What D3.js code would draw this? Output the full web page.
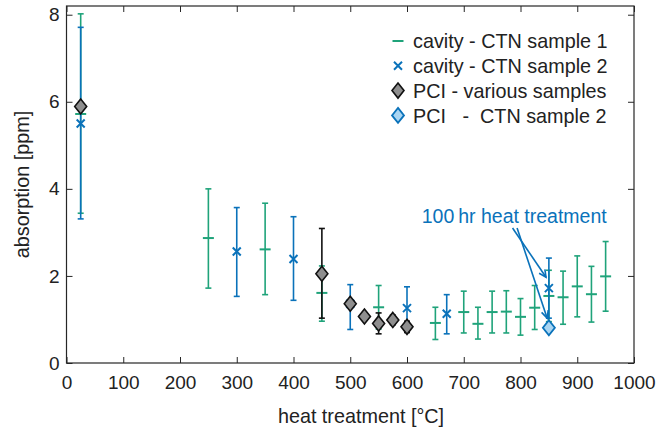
<!DOCTYPE html>
<html>
<head>
<meta charset="UTF-8">
<script src="https://d3js.org/d3.v7.min.js"></script>
<style>
  body { margin: 0; background: #fff; }
  text { font-family: "Liberation Sans", Arial, sans-serif; fill: #222; }
</style>
</head>
<body>
<div id="chart"></div>
<script>
// cavity - CTN sample 1
const t1  = [25, 250, 350, 450, 550, 650, 700, 725, 750, 775, 800, 825, 850, 875, 900, 925, 950];
const v1  = [5.72, 2.87, 2.61, 1.61, 1.28, 0.92, 1.17, 0.90, 1.17, 1.18, 1.06, 1.27, 1.54, 1.51, 1.76, 1.58, 1.99];
const lo1 = [3.44, 1.72, 1.57, 0.96, 0.78, 0.54, 0.69, 0.55, 0.69, 0.69, 0.64, 0.77, 0.95, 0.89, 1.06, 0.94, 1.19];
const hi1 = [8.02, 4.00, 3.67, 2.23, 1.78, 1.28, 1.65, 1.28, 1.65, 1.66, 1.48, 1.78, 2.13, 2.11, 2.46, 2.22, 2.79];
// cavity - CTN sample 2
const t2  = [25, 300, 400, 500, 600, 670, 850];
const v2  = [5.50, 2.56, 2.39, 1.36, 1.26, 1.13, 1.72];
const lo2 = [3.31, 1.53, 1.44, 0.77, 0.77, 0.67, 1.03];
const hi2 = [7.71, 3.57, 3.36, 1.80, 1.75, 1.57, 2.41];
// PCI - various samples
const t3  = [25, 450, 500, 525, 550, 575, 600];
const v3  = [5.89, 2.05, 1.36, 1.07, 0.91, 0.99, 0.83];
const lo3 = [5.85, 1.03, 1.30, 1.01, 0.67, 0.88, 0.70];
const hi3 = [5.93, 3.09, 1.42, 1.13, 1.15, 1.10, 0.96];
// PCI - CTN sample 2
const t4 = [850];
const v4 = [0.81];

const xTicks = d3.range(0, 1001, 100);
const yTicks = [0, 2, 4, 6, 8];
const legendLabels = ["cavity - CTN sample 1", "cavity - CTN sample 2", "PCI - various samples", "PCI   -  CTN sample 2"];
const noteText = "100\u2009hr heat treatment";
const noteAt = [626, 3.22];
const arrowFrom = [[786, 3.1], [794, 3.1]];
const arrowTo = [[845, 1.97], [847, 1.03]];

const green = "#1fa37a", blue = "#0a72ba", black = "#111", gray = "#8e8e8e", lightBlue = "#a9d5f2";

const W = 657, H = 435;
const mLeft = 66.5, mRight = 634, mTop = 6, mBottom = 363;

const svg = d3.select("#chart").append("svg").attr("width", W).attr("height", H);

const x = d3.scaleLinear().domain([0, 1000]).range([mLeft, mRight]);
const y = d3.scaleLinear().domain([0, 8.2]).range([mBottom, mTop]);

// frame + inward ticks
const axisCol = "#262626";
svg.append("g").attr("transform", `translate(0,${mBottom})`)
  .call(d3.axisBottom(x).tickValues(xTicks).tickFormat(d3.format("d")).tickSizeInner(-6).tickSizeOuter(0).tickPadding(13))
  .call(g => g.selectAll("text").attr("font-size", 19).style("fill", "#222"));
svg.append("g").attr("transform", `translate(0,${mTop})`)
  .call(d3.axisTop(x).tickValues(xTicks).tickSizeInner(-6).tickSizeOuter(0).tickFormat(""));
svg.append("g").attr("transform", `translate(${mLeft},0)`)
  .call(d3.axisLeft(y).tickValues(yTicks).tickSizeInner(-6).tickSizeOuter(0).tickPadding(7))
  .call(g => g.selectAll("text").attr("font-size", 19).style("fill", "#222"));
svg.append("g").attr("transform", `translate(${mRight},0)`)
  .call(d3.axisRight(y).tickValues(yTicks).tickSizeInner(-6).tickSizeOuter(0).tickFormat(""));
svg.selectAll(".domain").remove();
svg.selectAll(".tick line").attr("stroke", axisCol);
svg.append("rect").attr("x", mLeft).attr("y", mTop).attr("width", mRight - mLeft).attr("height", mBottom - mTop)
  .attr("fill", "none").attr("stroke", axisCol).attr("stroke-width", 1.2);

svg.append("text").attr("x", 361).attr("y", 423).attr("text-anchor", "middle")
  .attr("font-size", 19.8).text("heat treatment [°C]");
svg.append("text").attr("transform", `translate(29,${(mTop + mBottom) / 2}) rotate(-90)`)
  .attr("text-anchor", "middle").attr("font-size", 19.8).text("absorption [ppm]");

function errorBars(ts, lo, hi, col) {
  const g = svg.append("g").attr("stroke", col).attr("stroke-width", 1.6);
  ts.forEach((t, i) => {
    const cx = x(t);
    g.append("line").attr("x1", cx).attr("x2", cx).attr("y1", y(lo[i])).attr("y2", y(hi[i]));
    [lo[i], hi[i]].forEach(v => g.append("line")
      .attr("x1", cx - 3).attr("x2", cx + 3).attr("y1", y(v)).attr("y2", y(v)));
  });
}
const diamond = (cx, cy) => `M${cx},${cy - 7.5}L${cx + 6},${cy}L${cx},${cy + 7.5}L${cx - 6},${cy}Z`;
const dash = (g, cx, cy, col) => g.append("line").attr("x1", cx - 5.5).attr("x2", cx + 5.5)
  .attr("y1", cy).attr("y2", cy).attr("stroke", col).attr("stroke-width", 2);
const cross = (g, cx, cy, col) => g.append("path")
  .attr("d", `M${cx - 4},${cy - 4}L${cx + 4},${cy + 4}M${cx - 4},${cy + 4}L${cx + 4},${cy - 4}`)
  .attr("stroke", col).attr("stroke-width", 2).attr("fill", "none");

// series 1
errorBars(t1, lo1, hi1, green);
const g1 = svg.append("g");
t1.forEach((t, i) => dash(g1, x(t), y(v1[i]), green));
// series 2
errorBars(t2, lo2, hi2, blue);
const g2 = svg.append("g");
t2.forEach((t, i) => cross(g2, x(t), y(v2[i]), blue));
// series 3
errorBars(t3, lo3, hi3, black);
svg.append("g").selectAll("path").data(t3).join("path")
  .attr("d", (t, i) => diamond(x(t), y(v3[i])))
  .attr("fill", gray).attr("stroke", black).attr("stroke-width", 1.6);
// series 4
svg.append("g").selectAll("path").data(t4).join("path")
  .attr("d", (t, i) => diamond(x(t), y(v4[i])))
  .attr("fill", lightBlue).attr("stroke", blue).attr("stroke-width", 1.8);

// annotation
svg.append("text").attr("x", x(noteAt[0])).attr("y", y(noteAt[1]))
  .attr("font-size", 19.5).style("fill", blue).text(noteText);
const ga = svg.append("g").attr("stroke", blue).attr("stroke-width", 1.6).attr("fill", "none");
arrowFrom.forEach((p, i) => {
  const x0 = x(p[0]), y0 = y(p[1]), x1 = x(arrowTo[i][0]), y1 = y(arrowTo[i][1]);
  ga.append("line").attr("x1", x0).attr("y1", y0).attr("x2", x1).attr("y2", y1);
  const a = Math.atan2(y1 - y0, x1 - x0), L = 8, s = 0.45;
  ga.append("path").attr("d",
    `M${x1 - L * Math.cos(a - s)},${y1 - L * Math.sin(a - s)}L${x1},${y1}L${x1 - L * Math.cos(a + s)},${y1 - L * Math.sin(a + s)}`);
});

// legend
const lg = svg.append("g");
const lx = 398, ly0 = 41, dy = 24.8;
legendLabels.forEach((lab, i) => {
  const cy = ly0 + i * dy;
  if (i === 0) dash(lg, lx, cy, green);
  if (i === 1) cross(lg, lx, cy, blue);
  if (i === 2) lg.append("path").attr("d", diamond(lx, cy)).attr("fill", gray).attr("stroke", black).attr("stroke-width", 1.6);
  if (i === 3) lg.append("path").attr("d", diamond(lx, cy)).attr("fill", lightBlue).attr("stroke", blue).attr("stroke-width", 1.8);
  lg.append("text").attr("x", 413).attr("y", cy).attr("dy", "0.36em").attr("font-size", 19.8)
    .style("white-space", "pre").text(lab);
});
</script>
</body>
</html>
